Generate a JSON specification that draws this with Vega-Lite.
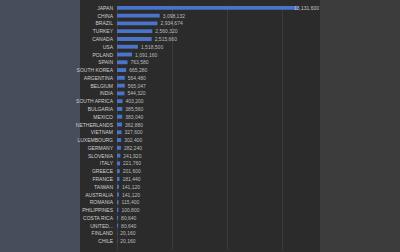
{
  "$schema": "https://vega.github.io/schema/vega-lite/v6.json",
  "background": "#2b2b2b",
  "padding": 0,
  "spacing": 0,
  "bounds": "flush",
  "config": {"view": {"stroke": null}, "font": "Liberation Sans"},
  "hconcat": [
    {
      "width": 80, "height": 252,
      "view": {"fill": "#474d5a", "stroke": null},
      "data": {"values": [{}]},
      "mark": {"type": "text", "text": ""}
    },
    {
      "width": 240, "height": 252,
      "view": {"fill": "#2b2b2b", "stroke": null},
      "data": {"values": [
        {"country": "JAPAN", "value": 13131600},
        {"country": "CHINA", "value": 3098132},
        {"country": "BRAZIL", "value": 2934674},
        {"country": "TURKEY", "value": 2560320},
        {"country": "CANADA", "value": 2515660},
        {"country": "USA", "value": 1518500},
        {"country": "POLAND", "value": 1091160},
        {"country": "SPAIN", "value": 763580},
        {"country": "SOUTH KOREA", "value": 665280},
        {"country": "ARGENTINA", "value": 564480},
        {"country": "BELGIUM", "value": 565047},
        {"country": "INDIA", "value": 544320},
        {"country": "SOUTH AFRICA", "value": 403200},
        {"country": "BULGARIA", "value": 385560},
        {"country": "MEXICO", "value": 383040},
        {"country": "NETHERLANDS", "value": 362880},
        {"country": "VIETNAM", "value": 327600},
        {"country": "LUXEMBOURG", "value": 302400},
        {"country": "GERMANY", "value": 282240},
        {"country": "SLOVENIA", "value": 241920},
        {"country": "ITALY", "value": 221760},
        {"country": "GREECE", "value": 201600},
        {"country": "FRANCE", "value": 181440},
        {"country": "TAIWAN", "value": 141120},
        {"country": "AUSTRALIA", "value": 141120},
        {"country": "ROMANIA", "value": 115400},
        {"country": "PHILIPPINES", "value": 100800},
        {"country": "COSTA RICA", "value": 80640},
        {"country": "UNITED...", "value": 80640},
        {"country": "FINLAND", "value": 20160},
        {"country": "CHILE", "value": 20160}
      ]},
      "encoding": {
        "y": {"field": "country", "type": "nominal", "sort": null, "axis": null,
              "scale": {"range": [2, 247], "paddingInner": 0.5, "paddingOuter": 0.5}}
      },
      "layer": [
        {
          "mark": {"type": "bar", "color": "#4a74c9"},
          "encoding": {
            "x": {"field": "value", "type": "quantitative",
                  "scale": {"domain": [0, 14000000], "range": [37, 230], "nice": false},
                  "axis": {"values": [0, 2000000, 4000000, 6000000, 8000000, 10000000, 12000000, 14000000],
                           "labels": false, "ticks": false, "domain": false, "title": null,
                           "grid": true, "gridColor": "#3b3b3b", "gridWidth": 1}}
          }
        },
        {
          "transform": [{"filter": "datum.value < 10000000"}],
          "mark": {"type": "text", "align": "left", "baseline": "middle", "dx": 3, "fontSize": 5, "color": "#bdbdbd"},
          "encoding": {
            "x": {"field": "value", "type": "quantitative"},
            "text": {"field": "value", "type": "quantitative", "format": ","}
          }
        },
        {
          "transform": [{"filter": "datum.value >= 10000000"}],
          "mark": {"type": "text", "align": "left", "baseline": "middle", "dx": -4, "fontSize": 5, "color": "#c8c8c8"},
          "encoding": {
            "x": {"field": "value", "type": "quantitative"},
            "text": {"field": "value", "type": "quantitative", "format": ","}
          }
        },
        {
          "mark": {"type": "text", "align": "right", "baseline": "middle", "dx": -4, "fontSize": 5, "color": "#cfcfcf"},
          "encoding": {
            "x": {"datum": 0, "type": "quantitative"},
            "text": {"field": "country", "type": "nominal"}
          }
        }
      ]
    },
    {
      "width": 80, "height": 252,
      "view": {"fill": "#3c3c3c", "stroke": null},
      "data": {"values": [{}]},
      "mark": {"type": "text", "text": ""}
    }
  ]
}
